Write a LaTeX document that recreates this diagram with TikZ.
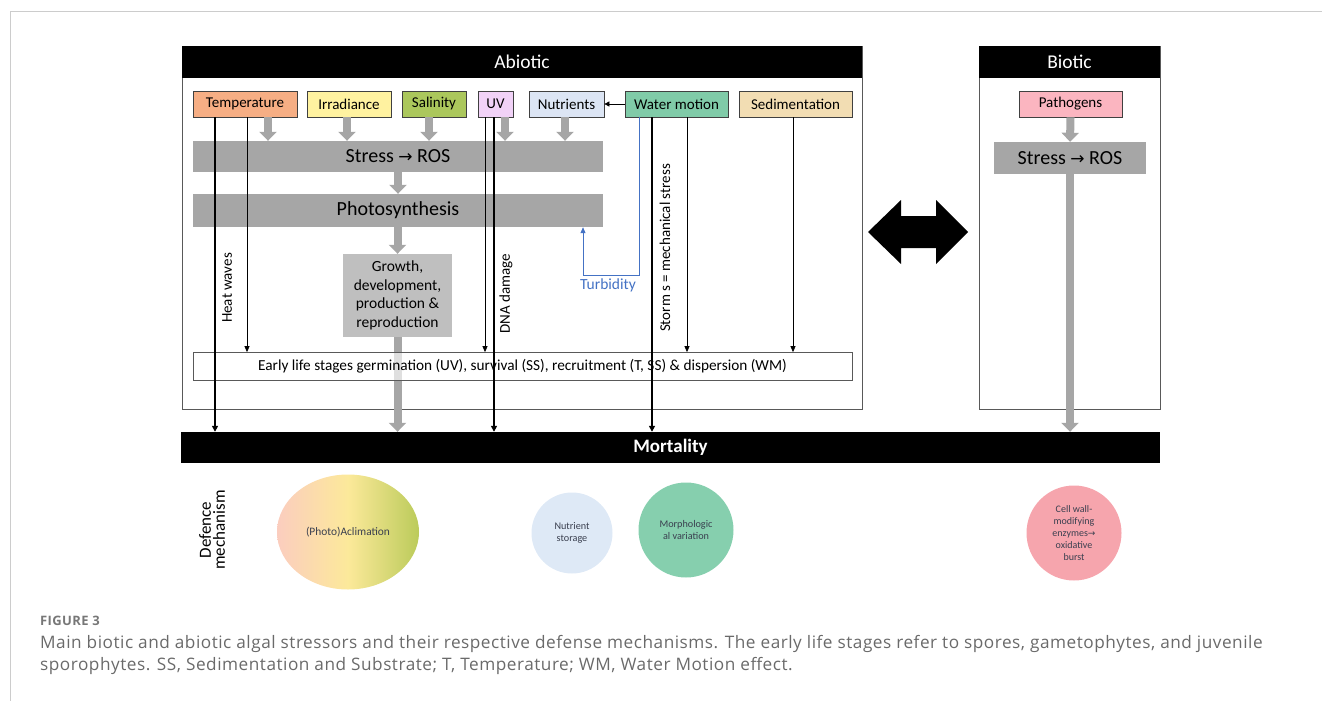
\documentclass[tikz,border=0pt]{standalone}
\usepackage{fontspec}
\setmainfont{Carlito}
\newfontfamily\djv{DejaVu Sans}
\newfontfamily\capfont[LetterSpace=3]{Open Sans}
\usetikzlibrary{arrows.meta,shapes.geometric}
\definecolor{boxgray}{HTML}{404040}
\definecolor{frameGray}{HTML}{595959}
\definecolor{barGray}{HTML}{A6A6A6}
\definecolor{growGray}{HTML}{BFBFBF}
\definecolor{cTemp}{HTML}{F6AE84}
\definecolor{cIrr}{HTML}{FFF2A0}
\definecolor{cSal}{HTML}{ABC75C}
\definecolor{cUV}{HTML}{F1D2F7}
\definecolor{cNut}{HTML}{DCE5F4}
\definecolor{cWM}{HTML}{80CBA8}
\definecolor{cSed}{HTML}{F2DDB3}
\definecolor{cPath}{HTML}{FBB5C0}
\definecolor{cNS}{HTML}{DEE9F6}
\definecolor{cMorph}{HTML}{86CFAE}
\definecolor{cCell}{HTML}{F6A5AD}
\definecolor{gLeft}{HTML}{FBCDBF}
\definecolor{gMid}{HTML}{FCE99A}
\definecolor{gRight}{HTML}{BBCB5A}
\definecolor{turbBlue}{HTML}{4472C4}
\definecolor{capGray}{HTML}{6A6A6A}
\definecolor{figGray}{HTML}{777777}
\definecolor{circText}{HTML}{3A3F4F}
\definecolor{pageLine}{HTML}{CCCCCC}
\begin{document}
\begin{tikzpicture}[x=1pt,y=-1pt,
  fbox/.style={draw=boxgray, line width=0.7pt, minimum height=26pt, inner sep=0pt, font=\fontsize{15}{17}\selectfont},
  graybar/.style={fill=barGray, inner sep=0pt, font=\fontsize{20}{22}\selectfont},
  header/.style={fill=black, text=white, inner sep=0pt, minimum height=32pt, font=\fontsize{19.5}{21}\selectfont},
  panel/.style={draw=frameGray, line width=0.8pt},
  garrow/.style={draw=barGray, line width=8pt, -{Triangle[width=17pt,length=9pt]}},
  blkthick/.style={line width=1.8pt, -{Triangle[width=6pt,length=6pt]}},
  blkthin/.style={line width=0.7pt, -{Triangle[width=5pt,length=6pt]}},
  vlabel/.style={rotate=90, inner sep=0pt, font=\fontsize{15}{17}\selectfont},
  defcircle/.style={circle, inner sep=0pt, align=center, text=circText, font=\fontsize{10.2}{12}\selectfont}
]
\useasboundingbox (0,0) rectangle (1322,701);
% page lines
\draw[pageLine, line width=0.8pt] (10,701) -- (10,11) -- (1322,11);

% panels
\draw[panel] (182,46) rectangle (862,409);
\draw[panel] (979,46) rectangle (1160,409);
\node[header, minimum width=680pt] (abhead) at (522,62) {Abiotic};
\node[header, minimum width=181pt] (bihead) at (1069.5,62) {Biotic};

% factor boxes
\node[fbox, fill=cTemp, minimum width=104pt] (temp) at (245,104) {Temperature};
\node[fbox, fill=cIrr, minimum width=84pt] (irr) at (349,104) {Irradiance};
\node[fbox, fill=cSal, minimum width=64pt] (sal) at (434,104) {Salinity};
\node[fbox, fill=cUV, minimum width=35pt] (uv) at (495.5,104) {UV};
\node[fbox, fill=cNut, minimum width=75pt] (nut) at (566.5,104) {Nutrients};
\node[fbox, fill=cWM, minimum width=103pt] (wm) at (676.5,104) {Water motion};
\node[fbox, fill=cSed, minimum width=113pt] (sed) at (795.5,104) {Sedimentation};
\node[fbox, fill=cPath, minimum width=103pt] (path) at (1070.5,104) {Pathogens};

% gray bars
\node[graybar, minimum width=410pt, minimum height=31pt] (stress) at (398,156.5) {Stress {\djv\fontsize{17}{19}\selectfont →} ROS};
\node[graybar, minimum width=410pt, minimum height=33pt] (photo) at (398,210.5) {Photosynthesis};
\node[graybar, minimum width=152pt, minimum height=32pt] (bstress) at (1070,158) {Stress {\djv\fontsize{17}{19}\selectfont →} ROS};
\node[fill=growGray, inner sep=0pt, minimum width=109pt, minimum height=83pt, align=center, font=\fontsize{15.5}{18.7}\selectfont] (growth) at (397.5,295.5) {Growth,\\development,\\production \&\\reproduction};

% mortality
\node[fill=black, text=white, inner sep=0pt, minimum width=979pt, minimum height=31pt, font=\bfseries\fontsize{19}{21}\selectfont] (mort) at (670.5,447.5) {Mortality};

% coordinates for vertical connectors
\coordinate (xhw) at (215,0);
\coordinate (xtt) at (247,0);
\coordinate (xuvt) at (485,0);
\coordinate (xdna) at (494,0);
\coordinate (xst) at (652,0);
\coordinate (xwt) at (687,0);
\coordinate (xsd) at (793,0);
\coordinate (ga1) at (268,0);
\coordinate (ga2) at (347,0);
\coordinate (ga3) at (429,0);
\coordinate (ga4) at (505,0);
\coordinate (ga5) at (565,0);

% thick gray arrows
\draw[garrow] (ga1 |- temp.south) -- (ga1 |- stress.north);
\draw[garrow] (ga2 |- irr.south) -- (ga2 |- stress.north);
\draw[garrow] (ga3 |- sal.south) -- (ga3 |- stress.north);
\draw[garrow] (ga4 |- uv.south) -- (ga4 |- stress.north);
\draw[garrow] (ga5 |- nut.south) -- (ga5 |- stress.north);
\draw[garrow] (stress.south) -- (photo.north);
\draw[garrow] (photo.south -| growth.north) -- (growth.north);
\draw[garrow] (growth.south) -- (growth.south |- mort.north);
\draw[garrow] (path.south) -- (bstress.north);
\draw[garrow] (bstress.south) -- (bstress.south |- mort.north);

% early life stages box
\node[draw=frameGray, line width=0.7pt, fill=white, fill opacity=0.65, text opacity=1, inner sep=0pt, minimum width=659pt, minimum height=28pt, font=\fontsize{15.3}{17}\selectfont] (early) at (522.5,366.5) {Early life stages germination (UV), survival (SS), recruitment (T, SS) \& dispersion (WM)};

% black connectors
\draw[blkthick] (xhw |- temp.south) -- (xhw |- mort.north);
\draw[blkthin] (xtt |- temp.south) -- (xtt |- early.north);
\draw[blkthin] (xuvt |- uv.south) -- (xuvt |- early.north);
\draw[blkthick] (xdna |- uv.south) -- (xdna |- mort.north);
\draw[blkthick] (xst |- wm.south) -- (xst |- mort.north);
\draw[blkthin] (xwt |- wm.south) -- (xwt |- early.north);
\draw[blkthin] (xsd |- sed.south) -- (xsd |- early.north);
\draw[line width=0.7pt, -{Triangle[width=5pt,length=5pt]}] (wm.west) -- (nut.east);

% turbidity
\coordinate (tb1) at (639,275);
\coordinate (tb2) at (583,275);
\draw[turbBlue, line width=0.8pt, -{Triangle[width=5pt,length=6pt]}] (tb1 |- wm.south) -- (tb1) -- (tb2) -- (tb2 |- photo.south);
\node[text=turbBlue, inner sep=0pt, font=\fontsize{15.5}{17}\selectfont] (turb) at (608,285) {Turbidity};

% vertical labels
\node[vlabel] (hwl) at (227,288) {Heat waves};
\node[vlabel] (dnal) at (506,294) {DNA damage};
\node[vlabel] (stl) at (665,248) {Storm s = mechanical stress};

% double arrow
\fill[black] (868,232) -- (901,200) -- (901,216) -- (936,216) -- (936,200) -- (968,232) -- (936,264) -- (936,248) -- (901,248) -- (901,264) -- cycle;

% defence mechanisms
\node[rotate=90, align=center, inner sep=0pt, font=\fontsize{17}{14}\selectfont] (defl) at (212,530) {Defence\\mechanism};
\node[ellipse, inner sep=0pt, minimum width=142pt, minimum height=115pt, left color=gLeft, right color=gRight, middle color=gMid, text=circText, font=\fontsize{11.4}{13}\selectfont] (acl) at (348,532) {(Photo)Aclimation};
\node[defcircle, fill=cNS, minimum size=81pt] (ns) at (572,533) {Nutrient\\storage};
\node[defcircle, fill=cMorph, minimum size=95pt] (morph) at (686,530) {Morphologic\\al variation};
\node[defcircle, fill=cCell, minimum size=95pt, font=\fontsize{10}{11.8}\selectfont] (cell) at (1074,533) {Cell wall-\\modifying\\enzymes{\djv\fontsize{9}{10}\selectfont →}\\oxidative\\burst};

% caption
\node[anchor=west, inner sep=0pt, text=figGray, font=\capfont\bfseries\fontsize{13}{15}\selectfont] (fig) at (40,621) {FIGURE 3};
\node[anchor=north west, inner sep=0pt, align=left, text=capGray, font=\capfont\fontsize{17.2}{22}\selectfont] (cap) at (40,635) {Main biotic and abiotic algal stressors and their respective defense mechanisms. The early life stages refer to spores, gametophytes, and juvenile\\sporophytes. SS, Sedimentation and Substrate; T, Temperature; WM, Water Motion effect.};
\end{tikzpicture}
\end{document}
